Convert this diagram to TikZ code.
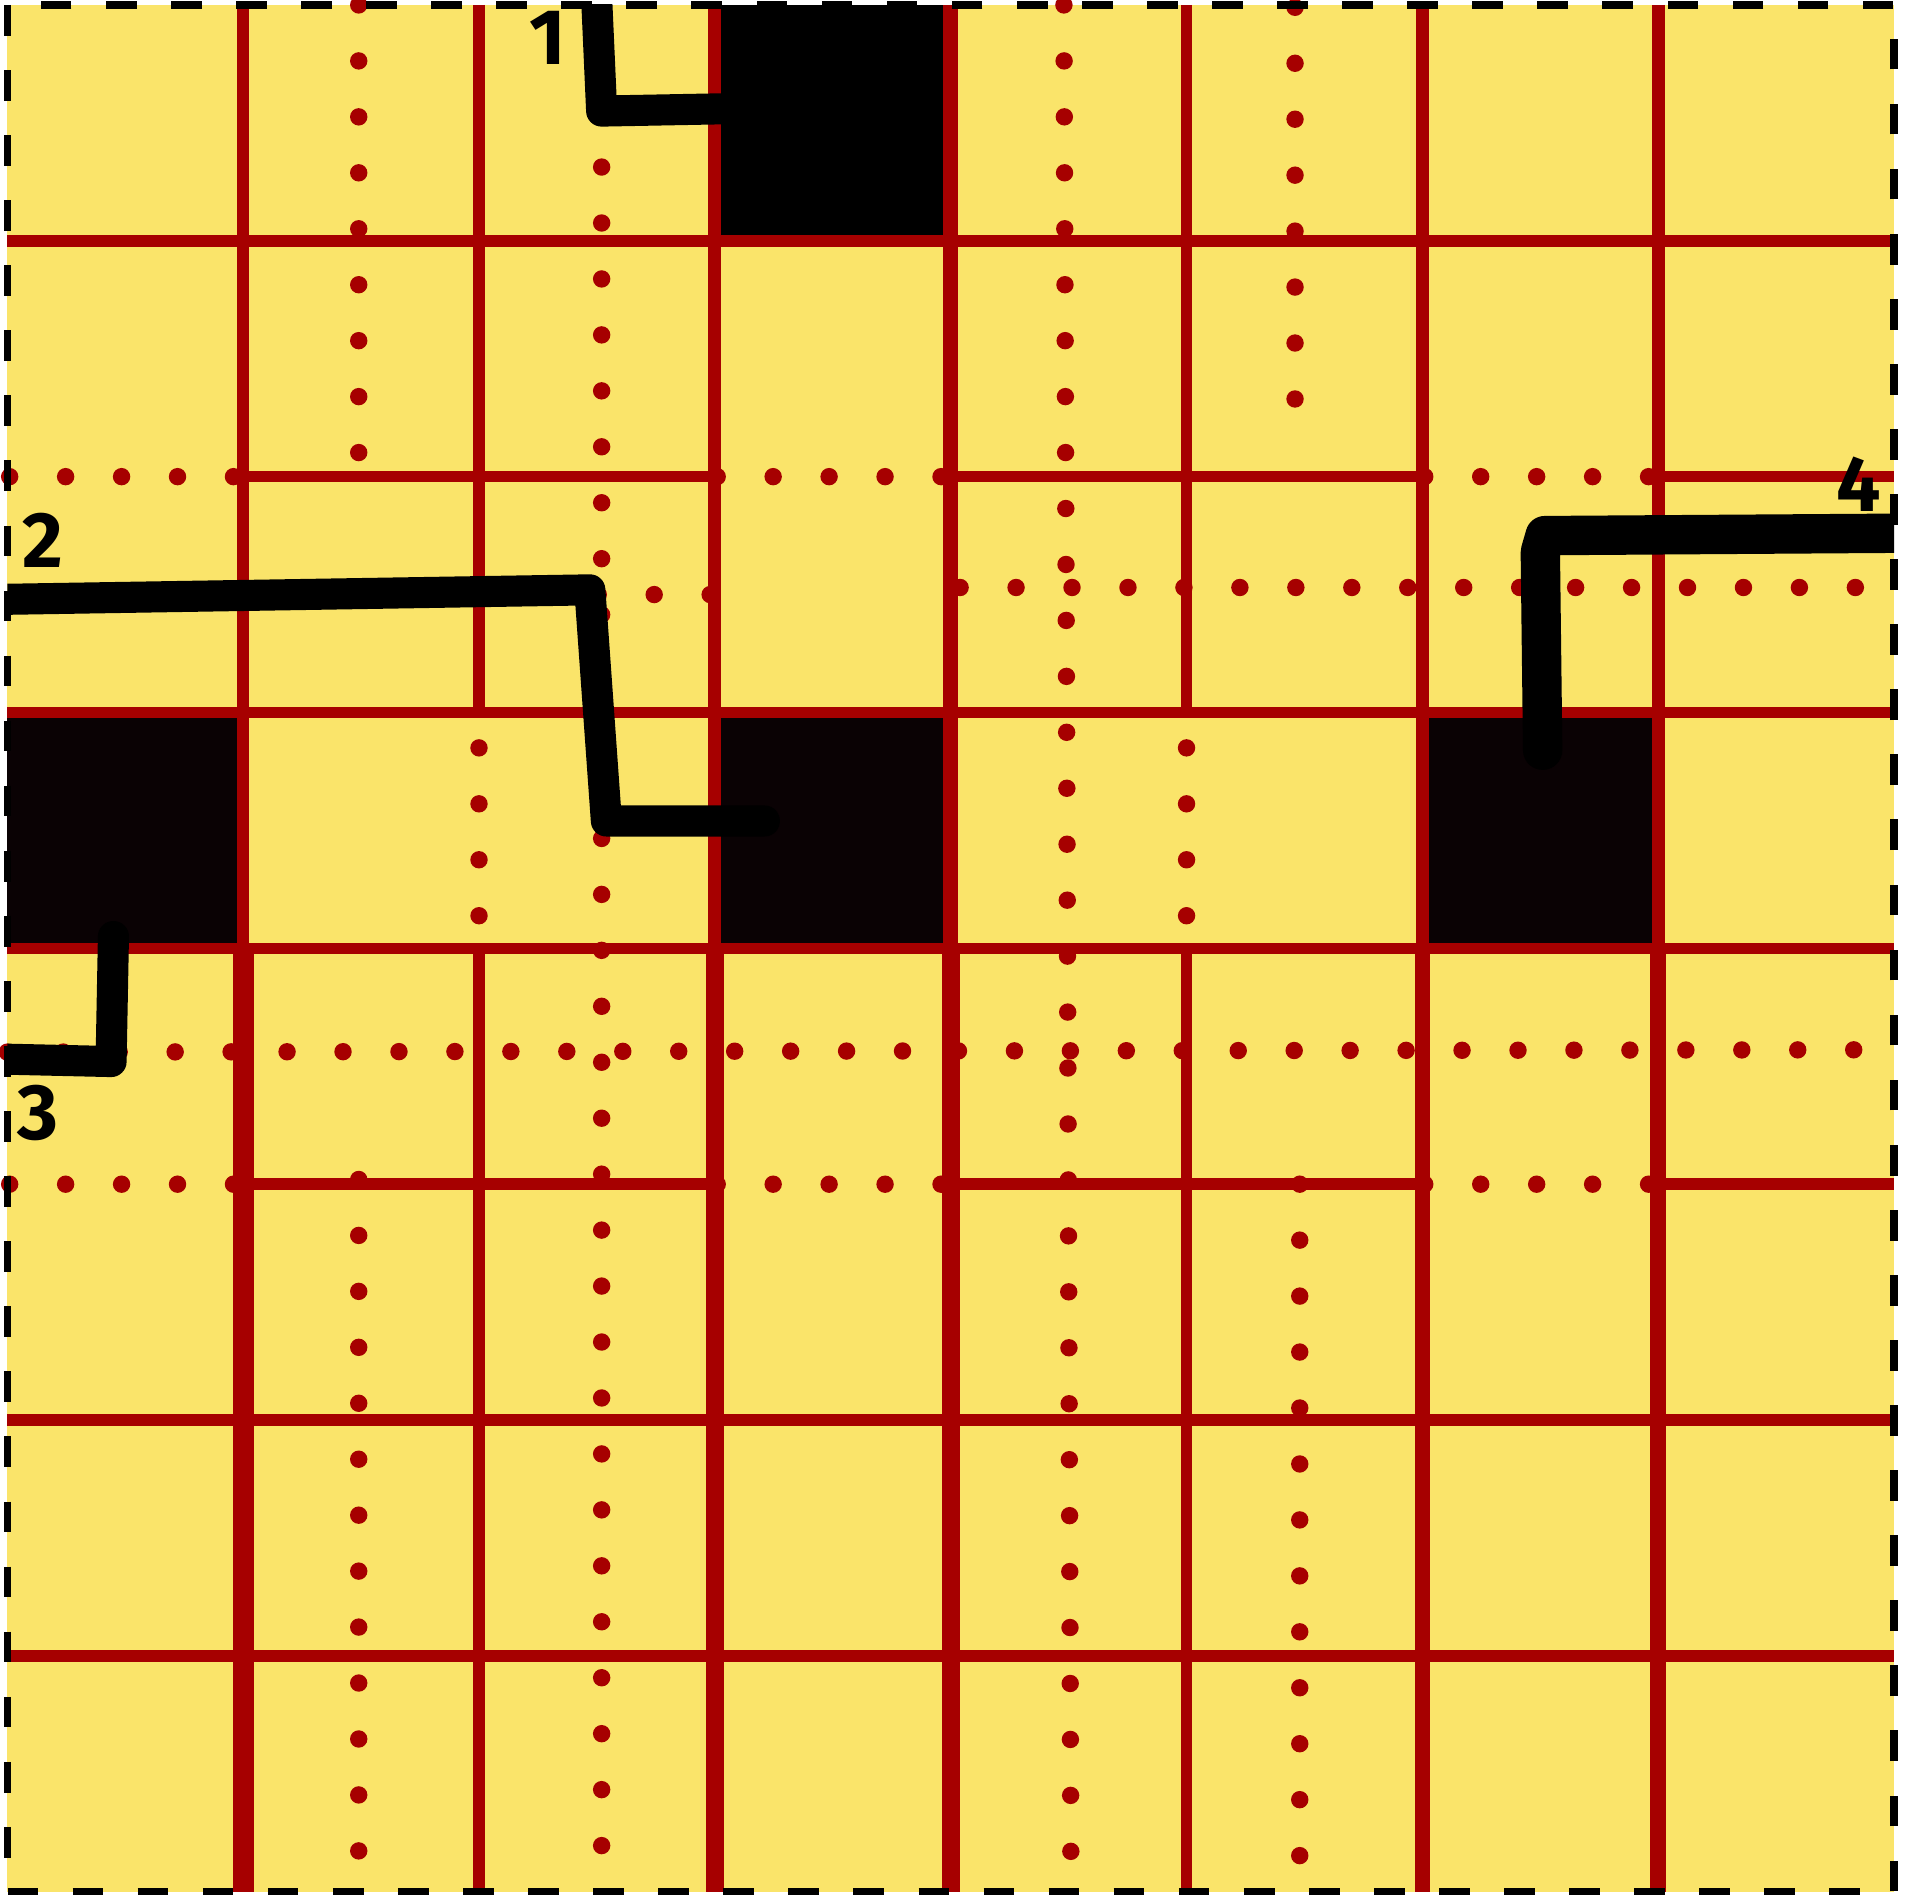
\documentclass[tikz,border=0pt]{standalone}
\usepackage{fontspec}
\setmainfont{Fira Sans}
\definecolor{padyellow}{RGB}{250,228,106}
\definecolor{wallred}{RGB}{166,0,0}
\definecolor{holeblack}{RGB}{10,2,4}

\begin{document}
\begin{tikzpicture}[x=2cm, y=-2cm,
    wall/.style={wallred, line width=2.8pt},
    dotrow/.style={wallred, line width=4.2pt, line cap=round, dash pattern=on 0pt off 13.5pt},
    route/.style={black, line width=7.5pt, line cap=round, line join=round},
    tag/.style={font=\fontsize{19}{19}\selectfont\bfseries, inner sep=0pt}]
  \useasboundingbox (-0.031,-0.021) rectangle (8.093,8.010);
  % yellow pad and the four black squares
  \fill[padyellow] (0,0) rectangle (8,8);
  \fill[black] (3,0) rectangle ++(1,1);
  \foreach \c in {0,3,6}
    \fill[holeblack] (\c,3) rectangle ++(1,1);

  % dotted guides through the middle of the cells
  \draw[dotrow] (1.49,0) -- (1.49,1.9);
  \draw[dotrow] (1.49,4.98) -- (1.49,8);
  \draw[dotrow] (5.46,0.01) -- (5.46,1.9);
  \draw[dotrow] (5.48,5.0) -- (5.48,8);
  \draw[dotrow] (2.52,0.45) -- (2.52,8);
  \draw[dotrow] (4.48,0) -- (4.51,8);
  \draw[dotrow] (2.98,2.5) -- (0,2.5);
  \draw[dotrow] (4.04,2.47) -- (8,2.47);
  \draw[dotrow] (0,4.44) -- (8,4.43);

  % walls that run the whole way
  \foreach \m in {1,3,4,6,7}
    \draw[wall] (0,\m) -- (8,\m);
  \foreach \k/\w in {1/2.8pt, 3/3.2pt, 4/3.6pt, 6/3.2pt, 7/3.2pt}
    \draw[wall, line width=\w] (\k,0) -- (\k,4);
  \foreach \k/\w in {1/5pt, 3/4.2pt, 4/4.4pt, 6/3.6pt, 7/3.8pt}
    \draw[wall, line width=\w] (\k,4) -- (\k,8);

  % walls that turn to dots beside the black squares
  \foreach \m in {2,5} {
    \draw[wall] (1,\m) -- (3,\m) (4,\m) -- (6,\m) (7,\m) -- (8,\m);
    \foreach \c in {0,3,6}
      \draw[dotrow] (\c+0.01,\m) -- ++(0.99,0);
  }
  \foreach \k in {2,5} {
    \draw[wall] (\k,0) -- (\k,3) (\k,4) -- (\k,8);
    \draw[dotrow] (\k,3.15) -- (\k,4);
  }

  % the four routes
  \begin{scope}
    \clip (0,0) rectangle (8,8);
    \draw[route] (2.5,0) -- (2.52,0.45) -- (3.05,0.44);
    \draw[route] (0,2.52) -- (2.47,2.48) -- (2.54,3.46) -- (3.21,3.46);
    \draw[route] (0,4.47) -- (0.44,4.48) -- (0.45,3.95);
    \draw[route, line width=9.5pt] (8,2.24) -- (6.52,2.25) -- (6.5,2.32) -- (6.51,3.16);
  \end{scope}

  \node[tag] (one) at (2.29,0.14) {1};
  \node[tag] (two) at (0.15,2.27) {2};
  \node[tag] (three) at (0.13,4.70) {3};
  \node[tag] (four) at (7.85,2.03) {4};

  % dashed frame
  \draw[black, line width=1.8pt, dash pattern=on 7.4pt off 8.3pt] (0,0) rectangle (8,8);
\end{tikzpicture}
\end{document}
